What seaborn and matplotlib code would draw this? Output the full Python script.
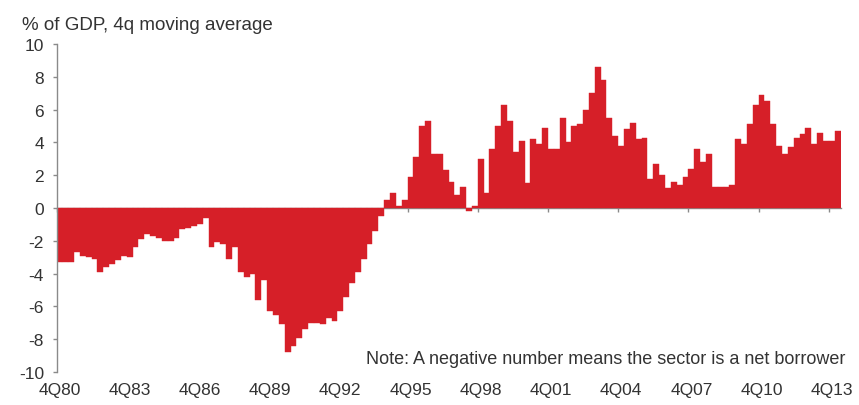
import matplotlib
matplotlib.use("Agg")
import matplotlib.pyplot as plt
import seaborn as sns
import pandas as pd

# quarterly categories 4Q80 .. 1Q14
QUARTERS = [f"{q}Q{y % 100:02d}" for y in range(1980, 2015) for q in (1, 2, 3, 4)][3:3 + 134]

# sector net lending, % of GDP (4q moving average)
BALANCE = [
    -3.3, -3.3, -3.3, -2.7, -2.9, -3.0, -3.1, -3.9, -3.6, -3.4,   # 4Q80-
    -3.2, -2.9, -3.0, -2.4, -1.9, -1.6, -1.7, -1.8, -2.0, -2.0,
    -1.8, -1.3, -1.2, -1.1, -1.0, -0.6, -2.4, -2.1, -2.2, -3.1,
    -2.4, -3.9, -4.2, -4.0, -5.6, -4.4, -6.3, -6.5, -7.1, -8.8,
    -8.4, -7.9, -7.4, -7.0, -7.0, -7.1, -6.7, -6.9, -6.3, -5.4,
    -4.6, -3.9, -3.1, -2.2, -1.4, -0.5, 0.5, 0.9, 0.1, 0.5,
    1.9, 3.1, 5.0, 5.3, 3.3, 3.3, 2.3, 1.6, 0.8, 1.3,
    -0.2, 0.1, 3.0, 0.9, 3.6, 5.0, 6.3, 5.3, 3.4, 4.1,
    1.5, 4.2, 3.9, 4.9, 3.6, 3.6, 5.5, 4.0, 5.0, 5.1,
    6.0, 7.0, 8.6, 7.8, 5.5, 4.4, 3.8, 4.8, 5.2, 4.2,
    4.3, 1.8, 2.7, 2.0, 1.2, 1.6, 1.4, 1.9, 2.4, 3.6,
    2.8, 3.3, 1.3, 1.3, 1.3, 1.4, 4.2, 3.9, 5.1, 6.3,
    6.9, 6.5, 5.1, 3.8, 3.3, 3.7, 4.3, 4.5, 4.9, 3.9,
    4.6, 4.1, 4.1, 4.7,
]

Y_TICKS = list(range(-10, 11, 2))
LABEL_STEP = 12

RED = "#d61f28"
GREY = "#8a8a8a"
TEXT = "#333333"

sns.set_theme(style="white")
plt.rcParams["font.family"] = ["Liberation Sans", "DejaVu Sans"]
plt.rcParams["axes.unicode_minus"] = False

df = pd.DataFrame({"quarter": QUARTERS, "balance": BALANCE})
n = len(df)

fig = plt.figure(figsize=(8.59, 4.06), dpi=100)
ax = fig.add_axes([0.0658, 0.0813, 0.9127, 0.8077])

sns.barplot(data=df, x="quarter", y="balance", order=QUARTERS, color=RED,
            saturation=1, width=1.0, edgecolor=RED, linewidth=0.3, ax=ax)

ax.set_xlim(-0.5, n - 0.5)
ax.set_ylim(-10, 10)
ax.set_yticks(Y_TICKS)
ax.set_xticks(range(0, n, LABEL_STEP))
ax.set_xticklabels(QUARTERS[::LABEL_STEP])
ax.set_xlabel("")
ax.set_ylabel("")

ax.tick_params(axis="x", length=0, pad=7, labelsize=12.5, labelcolor=TEXT)
ax.tick_params(axis="y", length=3, width=1, color=GREY, direction="out",
               pad=6, labelsize=12.5, labelcolor=TEXT, left=True)
for side in ("top", "right", "bottom"):
    ax.spines[side].set_visible(False)
ax.spines["left"].set_color(GREY)
ax.spines["left"].set_linewidth(1)

# zero line with small tick marks, like the category axis in the original
secx = ax.secondary_xaxis(0.49999)
secx.set_xticks([t - 0.5 for t in range(0, n, LABEL_STEP)])
secx.tick_params(axis="x", length=3, width=1, color=GREY, direction="out",
                 labelbottom=False, labeltop=False)
for sp in secx.spines.values():
    sp.set_color(GREY)
    sp.set_linewidth(1)

fig.text(22 / 859, 1 - 25 / 406, "% of GDP, 4q moving average", ha="left",
         va="center", fontsize=13.5, color=TEXT)
fig.text(845 / 859, 1 - 360 / 406,
         "Note: A negative number means the sector is a net borrower",
         ha="right", va="center", fontsize=13, color=TEXT)

fig.savefig("out.png", dpi=100, facecolor="white")
plt.close(fig)
